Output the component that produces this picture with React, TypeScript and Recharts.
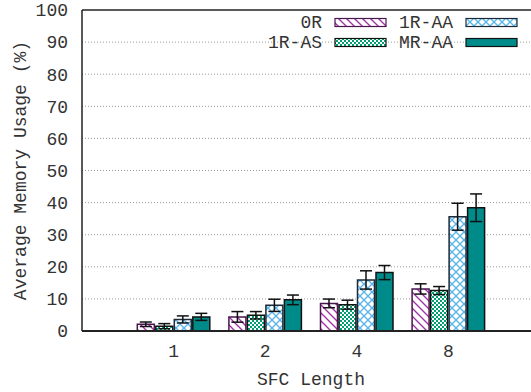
import React from "react";
import {
  BarChart,
  Bar,
  XAxis,
  YAxis,
  CartesianGrid,
  ErrorBar,
  Legend,
  ReferenceLine,
} from "recharts";

// SFC length categories and per-scheme memory usage (%) with std-dev
const sfcLengths = ["1", "2", "4", "8"];
const usage0R = [2.1, 4.4, 8.6, 13.1];
const err0R = [0.7, 1.65, 1.35, 1.6];
const usage1RAS = [1.5, 4.9, 8.2, 12.6];
const err1RAS = [0.8, 1.15, 1.4, 1.25];
const usage1RAA = [3.6, 8.0, 15.9, 35.6];
const err1RAA = [1.1, 1.9, 2.85, 4.2];
const usageMRAA = [4.4, 9.7, 18.2, 38.4];
const errMRAA = [1.1, 1.5, 2.2, 4.3];
const yTicks = [0, 10, 20, 30, 40, 50, 60, 70, 80, 90, 100];

const data = sfcLengths.map((len, i) => ({
  len,
  r0: usage0R[i],
  r0Err: err0R[i],
  r1as: usage1RAS[i],
  r1asErr: err1RAS[i],
  r1aa: usage1RAA[i],
  r1aaErr: err1RAA[i],
  mraa: usageMRAA[i],
  mraaErr: errMRAA[i],
}));

const FONT = "'Liberation Mono', 'DejaVu Sans Mono', monospace";
const TEXT = "#333";

const series = [
  { key: "r0", err: "r0Err", name: "0R", fill: "url(#pat-0r)", stroke: "#4a1650" },
  { key: "r1as", err: "r1asErr", name: "1R-AS", fill: "url(#pat-1ras)", stroke: "#111" },
  { key: "r1aa", err: "r1aaErr", name: "1R-AA", fill: "url(#pat-1raa)", stroke: "#1d2b38" },
  { key: "mraa", err: "mraaErr", name: "MR-AA", fill: "#008b8b", stroke: "#111" },
];

const Patterns = () => (
  <defs>
    <pattern id="pat-0r" width="8" height="8" patternUnits="userSpaceOnUse">
      <rect width="8" height="8" fill="#fff" />
      <path d="M-2,-2 L10,10 M-2,6 L2,10 M6,-2 L10,2" stroke="#a02ca8" strokeWidth="1.3" />
    </pattern>
    <pattern id="pat-1ras" width="4" height="4" patternUnits="userSpaceOnUse">
      <rect width="4" height="4" fill="#fff" />
      <rect width="2" height="2" fill="#009e73" />
      <rect x="2" y="2" width="2" height="2" fill="#009e73" />
    </pattern>
    <pattern id="pat-1raa" width="8" height="8" patternUnits="userSpaceOnUse">
      <rect width="8" height="8" fill="#fff" />
      <path d="M0,0 L8,8 M8,0 L0,8" stroke="#56b4e9" strokeWidth="1.3" />
    </pattern>
  </defs>
);

// Two-row key block in the top-right corner of the plot
const legendRows = [
  [series[0], series[2]],
  [series[1], series[3]],
];

const KeyBlock = () => (
  <svg width={280} height={46}>
    <Patterns />
    {legendRows.map((row, r) =>
      row.map((s, c) => {
        const textEnd = c === 0 ? 72 : 203;
        const keyX = c === 0 ? 85 : 216;
        const cy = 12.5 + r * 20;
        return (
          <g key={s.name}>
            <text
              x={textEnd}
              y={cy}
              textAnchor="end"
              dominantBaseline="central"
              fontFamily={FONT}
              fontSize={18}
              fill={TEXT}
            >
              {s.name}
            </text>
            <rect x={keyX} y={cy - 4} width={51} height={8} fill={s.fill} stroke={s.stroke} strokeWidth={1.2} />
          </g>
        );
      })
    )}
  </svg>
);

const App: React.FC = () => {
  return (
    <div style={{ position: "fixed", left: 0, top: 0, width: 531, height: 392, overflow: "hidden", background: "#fff" }}>
      <BarChart
        width={560}
        height={392}
        data={data}
        margin={{ top: 10, right: 20, left: 0, bottom: 0 }}
        barCategoryGap={9.5}
        barGap={1.5}
      >
        <Patterns />
        <CartesianGrid
          vertical={false}
          stroke="#999"
          strokeDasharray="1 2"
          horizontalValues={[10, 20, 30, 40, 50, 60, 70, 80, 90]}
        />
        <XAxis
          dataKey="len"
          height={61}
          padding={{ left: 45.8, right: 45.8 }}
          tickSize={0}
          tickMargin={13}
          axisLine={{ stroke: "#222", strokeWidth: 2 }}
          tick={{ fontFamily: FONT, fontSize: 18, fill: TEXT }}
          label={{
            value: "SFC Length",
            position: "insideBottom",
            offset: 7,
            style: { fontFamily: FONT, fontSize: 18, fill: TEXT },
          }}
        />
        <YAxis
          width={82}
          domain={[0, 100]}
          ticks={yTicks}
          interval={0}
          tickSize={0}
          tickMargin={14}
          axisLine={{ stroke: "#222", strokeWidth: 1.5 }}
          tick={{ fontFamily: FONT, fontSize: 18, fill: TEXT }}
          label={{
            value: "Average Memory Usage (%)",
            angle: -90,
            position: "insideLeft",
            offset: 20,
            style: { fontFamily: FONT, fontSize: 18, fill: TEXT, textAnchor: "middle" },
          }}
        />
        <ReferenceLine y={100} stroke="#222" strokeWidth={1.5} />
        {series.map((s) => (
          <Bar
            key={s.key}
            dataKey={s.key}
            name={s.name}
            fill={s.fill}
            stroke={s.stroke}
            strokeWidth={1.5}
            isAnimationActive={false}
          >
            <ErrorBar dataKey={s.err} width={6} stroke="#111" strokeWidth={1.5} />
          </Bar>
        ))}
        <Legend
          layout="horizontal"
          verticalAlign="middle"
          align="center"
          wrapperStyle={{ top: 10, left: 250, width: 280 }}
          content={() => <KeyBlock />}
        />
      </BarChart>
    </div>
  );
};

export default App;
